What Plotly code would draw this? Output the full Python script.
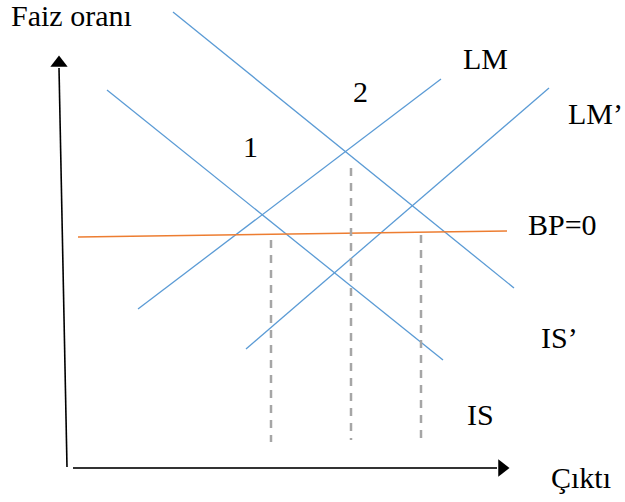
import plotly.graph_objects as go

# Chart units match page pixels (x to the right, y upward from page bottom).
W, H = 625, 502
X_RANGE = [0, 625]
Y_RANGE = [0, 502]

# Curves: endpoints (x, y) in chart units
is_prime_x = [173, 514]; is_prime_y = [490, 214]
is_x = [107, 443]; is_y = [412, 142]
lm_x = [138, 441]; lm_y = [193, 423]
lm_prime_x = [246, 549]; lm_prime_y = [153, 414]
bp_x = [78, 507]; bp_y = [265, 271]

# Dashed verticals: x, top y, bottom y
drop_x = [271, 351, 421]
drop_top = [262, 334, 267]
drop_bottom = [60, 62, 60]

# Labels (left edge x, vertical centre y)
label_text = ["Faiz oranı", "Çıktı", "LM", "LM’", "2", "1", "BP=0", "IS’", "IS"]
label_x = [9, 549, 461, 566, 351, 241, 526, 539, 465]
label_y = [487, 25, 444, 389, 411, 356, 278, 165, 88]

BLUE = "#5B9BD5"
ORANGE = "#ED7D31"
GREY = "#A6A6A6"

fig = go.Figure()

for xs, ys in [(is_prime_x, is_prime_y), (is_x, is_y), (lm_x, lm_y), (lm_prime_x, lm_prime_y)]:
    fig.add_trace(go.Scatter(x=xs, y=ys, mode="lines", line=dict(color=BLUE, width=1.3),
                             hoverinfo="skip", showlegend=False))

fig.add_trace(go.Scatter(x=bp_x, y=bp_y, mode="lines", line=dict(color=ORANGE, width=1.6),
                         hoverinfo="skip", showlegend=False))

for x, t, b in zip(drop_x, drop_top, drop_bottom):
    fig.add_trace(go.Scatter(x=[x, x], y=[t, b], mode="lines",
                             line=dict(color=GREY, width=2.5, dash="8px,7px"),
                             hoverinfo="skip", showlegend=False))

# Axes
fig.add_trace(go.Scatter(x=[67, 59], y=[35, 434], mode="lines", line=dict(color="black", width=1.6),
                         hoverinfo="skip", showlegend=False))
fig.add_trace(go.Scatter(x=[73, 497], y=[34, 34], mode="lines", line=dict(color="#333333", width=2),
                         hoverinfo="skip", showlegend=False))
fig.add_trace(go.Scatter(x=[59], y=[439], mode="markers",
                         marker=dict(symbol="triangle-up", size=15, color="black"),
                         hoverinfo="skip", showlegend=False))
fig.add_trace(go.Scatter(x=[502], y=[34], mode="markers",
                         marker=dict(symbol="triangle-right", size=15, color="black"),
                         hoverinfo="skip", showlegend=False))

for t, x, y in zip(label_text, label_x, label_y):
    fig.add_annotation(x=x, y=y, xref="x", yref="y", text=t, showarrow=False,
                       xanchor="left", yanchor="middle",
                       font=dict(family="Liberation Serif", size=30, color="black"))

fig.update_layout(
    width=W, height=H, margin=dict(l=0, r=0, t=0, b=0),
    paper_bgcolor="white", plot_bgcolor="white",
    xaxis=dict(range=X_RANGE, visible=False, fixedrange=True),
    yaxis=dict(range=Y_RANGE, visible=False, fixedrange=True),
)

fig.write_html("out.html", config={"displayModeBar": False},
               post_script="document.body.style.margin='0';")
